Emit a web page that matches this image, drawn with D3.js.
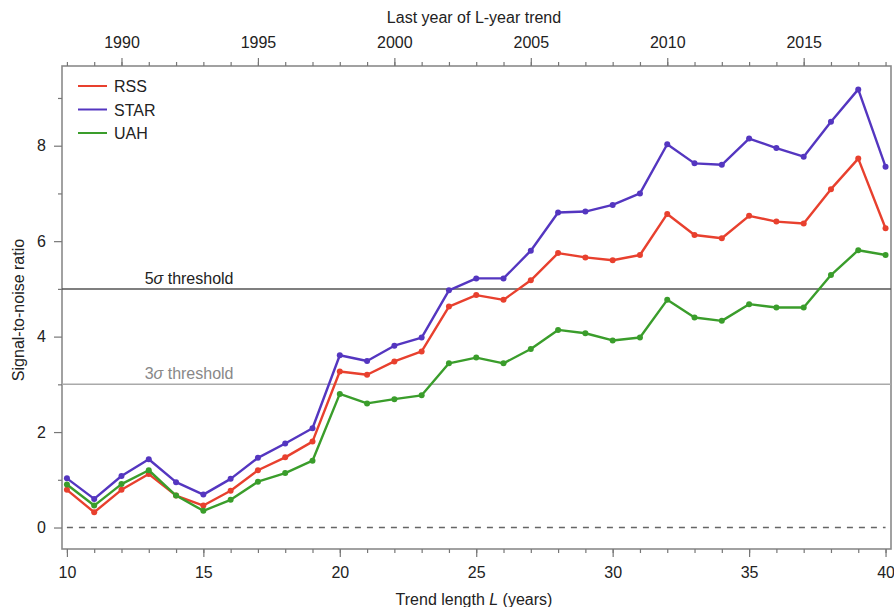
<!DOCTYPE html>
<html>
<head>
<meta charset="utf-8">
<script src="https://cdn.jsdelivr.net/npm/d3@7"></script>
<style>
  body { margin: 0; background: #fff; }
  text { font-family: "Liberation Sans", Arial, sans-serif; }
</style>
</head>
<body>
<script>
// Trend length L (years)
const trendLengths = d3.range(10, 41)

// Signal-to-noise ratio per dataset
const rss = [0.79, 0.32, 0.79, 1.12, 0.67, 0.46, 0.77, 1.20, 1.47, 1.80,
  3.27, 3.20, 3.48, 3.69, 4.63, 4.87, 4.77, 5.18, 5.75, 5.66,
  5.60, 5.71, 6.57, 6.13, 6.06, 6.53, 6.41, 6.37, 7.09, 7.73, 6.27]
const star = [1.03, 0.60, 1.08, 1.43, 0.95, 0.69, 1.02, 1.46, 1.76, 2.08,
  3.61, 3.49, 3.81, 3.98, 4.97, 5.22, 5.22, 5.80, 6.60, 6.62,
  6.76, 7.00, 8.03, 7.63, 7.60, 8.15, 7.95, 7.77, 8.50, 9.18, 7.56]
const uah = [0.90, 0.46, 0.91, 1.20, 0.67, 0.35, 0.58, 0.96, 1.14, 1.40,
  2.80, 2.60, 2.69, 2.77, 3.44, 3.56, 3.44, 3.74, 4.14, 4.07,
  3.92, 3.98, 4.77, 4.40, 4.33, 4.68, 4.61, 4.61, 5.29, 5.81, 5.71]

const seriesNames = ['RSS', 'STAR', 'UAH']
const seriesColors = ['#e8402e', '#5436c0', '#3a9d2b']
const seriesValues = [rss, star, uah]

const xTicks = [10, 15, 20, 25, 30, 35, 40]
const yTicks = [0, 2, 4, 6, 8]
const yearTicks = [1990, 1995, 2000, 2005, 2010, 2015]
const yearOffset = 1978 // last year = L + 1978
const thresholds = [5, 3]

const W = 894, H = 607
const frame = { left: 62, right: 891, top: 66, bottom: 549 }
const fs = '16px'

const svg = d3.select('body').append('svg')
  .attr('width', W).attr('height', H)

const x = d3.scaleLinear().domain([9.82, 40.2]).range([frame.left, frame.right])
const y = d3.scaleLinear().domain([-0.45, 9.67]).range([frame.bottom, frame.top])
const xTop = d3.scaleLinear()
  .domain(x.domain().map(d => d + yearOffset))
  .range(x.range())

// Frame
svg.append('rect')
  .attr('x', frame.left).attr('y', frame.top)
  .attr('width', frame.right - frame.left)
  .attr('height', frame.bottom - frame.top)
  .attr('fill', 'none').attr('stroke', '#8a8a8a').attr('stroke-width', 1.6)

// Axes
const tickStyle = g => {
  g.select('.domain').remove()
  g.selectAll('line').attr('stroke', '#777').attr('stroke-width', 1.2)
  g.selectAll('text').attr('fill', '#222').style('font-size', fs)
}

// bottom
svg.append('g').attr('transform', `translate(0,${frame.bottom})`)
  .call(d3.axisBottom(x).tickValues(d3.range(10, 41)).tickSize(4).tickFormat(''))
  .call(tickStyle)
svg.append('g').attr('transform', `translate(0,${frame.bottom})`)
  .call(d3.axisBottom(x).tickValues(xTicks).tickSize(8).tickPadding(10).tickFormat(d3.format('d')))
  .call(tickStyle)

// top
svg.append('g').attr('transform', `translate(0,${frame.top})`)
  .call(d3.axisTop(xTop).tickValues(d3.range(1988, 2019)).tickSize(4).tickFormat(''))
  .call(tickStyle)
svg.append('g').attr('transform', `translate(0,${frame.top})`)
  .call(d3.axisTop(xTop).tickValues(yearTicks).tickSize(8).tickPadding(10).tickFormat(d3.format('d')))
  .call(tickStyle)

// left
svg.append('g').attr('transform', `translate(${frame.left},0)`)
  .call(d3.axisLeft(y).tickValues([1, 3, 5, 7, 9]).tickSize(4).tickFormat(''))
  .call(tickStyle)
svg.append('g').attr('transform', `translate(${frame.left},0)`)
  .call(d3.axisLeft(y).tickValues(yTicks).tickSize(8).tickPadding(8).tickFormat(d3.format('d')))
  .call(tickStyle)

// Axis titles
svg.append('text')
  .attr('x', 474).attr('y', 605)
  .attr('text-anchor', 'middle').style('font-size', fs).attr('fill', '#222')
  .html('Trend length <tspan font-style="italic">L</tspan> (years)')

svg.append('text')
  .attr('x', 474).attr('y', 23)
  .attr('text-anchor', 'middle').style('font-size', fs).attr('fill', '#222')
  .text('Last year of L-year trend')

svg.append('text')
  .attr('transform', `translate(24,310) rotate(-90)`)
  .attr('text-anchor', 'middle').style('font-size', fs).attr('fill', '#222')
  .text('Signal-to-noise ratio')

// Threshold lines
const thrColors = ['#555', '#aaa']
thresholds.forEach((t, i) => {
  svg.append('line')
    .attr('x1', frame.left).attr('x2', frame.right)
    .attr('y1', y(t)).attr('y2', y(t))
    .attr('stroke', thrColors[i]).attr('stroke-width', 1.5)
  svg.append('text')
    .attr('x', x(12.85)).attr('y', y(t) - 5)
    .style('font-size', fs)
    .attr('fill', i === 0 ? '#222' : '#888')
    .html(`${t}<tspan font-style="italic">σ</tspan> threshold`)
})

// Zero line
svg.append('line')
  .attr('x1', x(10)).attr('x2', x(40))
  .attr('y1', y(0)).attr('y2', y(0))
  .attr('stroke', '#666').attr('stroke-width', 1.5)
  .attr('stroke-dasharray', '6,6')

// Series
const line = d3.line()
  .x((d, i) => x(trendLengths[i]))
  .y(d => y(d))

seriesValues.forEach((vals, s) => {
  svg.append('path')
    .datum(vals)
    .attr('fill', 'none')
    .attr('stroke', seriesColors[s])
    .attr('stroke-width', 2.4)
    .attr('stroke-linejoin', 'round')
    .attr('d', line)

  svg.append('g').selectAll('circle')
    .data(vals)
    .join('circle')
    .attr('cx', (d, i) => x(trendLengths[i]))
    .attr('cy', d => y(d))
    .attr('r', 3)
    .attr('fill', seriesColors[s])
})

// Legend
const legend = svg.append('g').attr('transform', 'translate(78,86)')
seriesNames.forEach((name, i) => {
  const g = legend.append('g').attr('transform', `translate(0,${i * 23.5})`)
  g.append('line')
    .attr('x1', 0).attr('x2', 29).attr('y1', 0).attr('y2', 0)
    .attr('stroke', seriesColors[i]).attr('stroke-width', 2)
  g.append('text')
    .attr('x', 36).attr('y', 6)
    .style('font-size', fs).attr('fill', '#222')
    .text(name)
})
</script>
</body>
</html>
